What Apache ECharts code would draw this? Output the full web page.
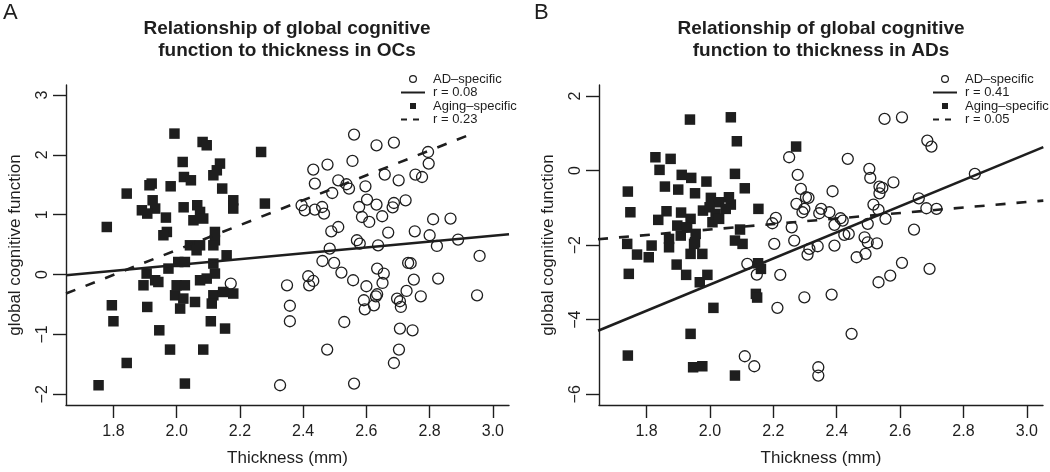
<!DOCTYPE html>
<html>
<head>
<meta charset="utf-8">
<script src="https://cdn.jsdelivr.net/npm/echarts@6/dist/echarts.min.js"></script>
<style>
html,body{margin:0;padding:0;background:#fff;}
#chart{width:1050px;height:472px;}
</style>
</head>
<body>
<div id="chart"></div>
<script>
// ---------- data ----------
const xTicks = [1.8, 2.0, 2.2, 2.4, 2.6, 2.8, 3.0];
const yTicksA = [-2, -1, 0, 1, 2, 3];
const yTicksB = [-6, -4, -2, 0, 2];

const panelTitles = ['Relationship of global cognitive\nfunction to thickness in OCs',
                     'Relationship of global cognitive\nfunction to thickness in ADs'];
const legendLabelsA = ['AD\u2013specific', 'r = 0.08', 'Aging\u2013specific', 'r = 0.23'];
const legendLabelsB = ['AD\u2013specific', 'r = 0.41', 'Aging\u2013specific', 'r = 0.05'];

// Panel A (OCs): Aging-specific (filled squares)
const agingA = [
  [1.993,2.355],[2.082,2.215],[2.095,2.160],[2.267,2.048],[2.019,1.881],[2.137,1.854],
  [2.127,1.742],[2.116,1.659],[1.921,1.520],[1.914,1.492],[1.981,1.475],[2.023,1.630],
  [2.045,1.575],[1.842,1.353],[2.144,1.437],[2.179,1.241],[2.179,1.103],[2.279,1.186],
  [1.924,1.241],[1.932,1.103],[1.890,1.074],[1.907,1.019],[1.966,0.952],[2.022,1.124],
  [2.065,1.158],[2.074,1.046],[2.053,0.907],[2.084,0.936],[1.779,0.795],[1.969,0.712],
  [1.958,0.657],[2.121,0.712],[2.121,0.573],[2.042,0.489],[2.074,0.489],[2.063,0.406],
  [2.116,0.489],[2.158,0.322],[2.005,0.210],[2.026,0.210],[1.974,0.100],[2.116,0.184],
  [2.121,0.017],[1.905,0.017],[1.932,-0.095],[1.895,-0.179],[1.942,-0.124],[2.095,-0.067],
  [2.074,-0.095],[2.000,-0.179],[2.026,-0.179],[1.995,-0.346],[2.021,-0.401],[2.011,-0.568],
  [2.058,-0.458],[2.116,-0.346],[2.111,-0.484],[2.147,-0.291],[2.179,-0.317],[1.795,-0.513],
  [1.907,-0.541],[1.800,-0.780],[1.945,-0.931],[2.108,-0.780],[2.153,-0.902],[1.979,-1.253],
  [2.084,-1.253],[1.842,-1.477],[1.753,-1.849],[2.026,-1.821]
];
// Panel A (OCs): AD-specific (open circles)
const adA = [
  [2.171,-0.150],[2.349,-0.179],[2.358,-0.521],[2.358,-0.780],[2.327,-1.849],
  [2.561,2.339],[2.632,2.160],[2.687,2.205],[2.795,2.048],[2.797,1.854],[2.432,1.754],
  [2.477,1.838],[2.556,1.898],[2.437,1.520],[2.511,1.575],[2.537,1.509],[2.545,1.437],
  [2.597,1.475],[2.658,1.671],[2.702,1.575],[2.755,1.671],[2.776,1.630],[2.492,1.363],
  [2.395,1.158],[2.405,1.074],[2.437,1.086],[2.460,1.129],[2.466,1.019],[2.577,1.129],
  [2.602,1.253],[2.632,1.169],[2.687,1.196],[2.683,1.124],[2.724,1.241],[2.586,0.962],
  [2.609,0.879],[2.650,0.974],[2.489,0.723],[2.511,0.795],[2.669,0.702],[2.811,0.924],
  [2.866,0.936],[2.753,0.723],[2.800,0.657],[2.570,0.573],[2.579,0.518],[2.637,0.489],
  [2.890,0.585],[2.823,0.478],[2.484,0.434],[2.958,0.311],[2.461,0.227],[2.498,0.194],
  [2.521,0.033],[2.732,0.194],[2.740,0.189],[2.634,0.100],[2.655,0.017],[2.651,-0.140],
  [2.416,-0.028],[2.419,-0.179],[2.432,-0.107],[2.558,-0.095],[2.600,-0.195],[2.750,-0.084],
  [2.827,-0.067],[2.634,-0.329],[2.630,-0.363],[2.592,-0.429],[2.595,-0.580],[2.624,-0.513],
  [2.697,-0.401],[2.706,-0.446],[2.709,-0.541],[2.727,-0.274],[2.772,-0.363],[2.950,-0.346],
  [2.530,-0.792],[2.706,-0.902],[2.746,-0.931],[2.476,-1.253],[2.703,-1.253],[2.687,-1.477],
  [2.561,-1.821]
];
// Panel B (ADs): Aging-specific (filled squares)
const agingB = [
  [1.937,1.368],[2.066,1.429],[2.085,0.786],[2.272,0.644],[1.828,0.357],[1.876,0.314],
  [1.841,0.019],[1.911,-0.115],[1.941,-0.196],[1.989,-0.295],[2.079,-0.088],[1.741,-0.563],
  [1.858,-0.429],[1.900,-0.510],[1.953,-0.609],[2.110,-0.475],[2.003,-0.732],[2.029,-0.850],
  [2.060,-0.716],[2.066,-0.912],[1.749,-1.118],[1.863,-1.091],[1.909,-1.126],[1.837,-1.322],
  [1.978,-1.073],[1.999,-0.984],[2.018,-1.161],[2.050,-1.027],[2.008,-1.386],[2.029,-1.295],
  [1.939,-1.295],[1.897,-1.475],[1.928,-1.521],[1.908,-1.743],[1.955,-1.698],[1.953,-1.923],
  [2.153,-1.027],[2.095,-1.582],[1.739,-1.966],[1.816,-2.011],[1.871,-1.832],[1.871,-2.057],
  [2.079,-1.877],[2.103,-1.966],[1.950,-1.966],[1.770,-2.253],[1.807,-2.325],[1.939,-2.234],
  [1.976,-2.234],[1.744,-2.770],[1.895,-2.521],[1.925,-2.797],[1.992,-2.797],[1.968,-2.995],
  [2.152,-2.486],[2.161,-2.636],[2.145,-3.307],[2.149,-3.406],[2.011,-3.682],[1.939,-4.379],
  [1.741,-4.961],[1.947,-5.275],[1.976,-5.248],[2.079,-5.497]
];
// Panel B (ADs): AD-specific (open circles)
const adB = [
  [2.250,0.357],[2.277,-0.115],[2.287,-0.491],[2.303,-0.716],[2.273,-0.893],[2.298,-1.027],
  [2.292,-1.118],[2.208,-1.268],[2.197,-1.413],[2.258,-1.521],[2.203,-1.966],[2.266,-1.877],
  [2.118,-2.502],[2.148,-2.789],[2.222,-2.797],[2.213,-3.682],[2.298,-3.398],[2.308,-2.253],
  [2.110,-4.980],[2.140,-5.248],[2.551,1.386],[2.606,1.429],[2.686,0.804],[2.699,0.644],
  [2.435,0.314],[2.503,0.046],[2.506,-0.196],[2.579,-0.314],[2.535,-0.429],[2.544,-0.464],
  [2.535,-0.609],[2.387,-0.555],[2.311,-0.732],[2.351,-1.027],[2.345,-1.145],[2.377,-1.118],
  [2.516,-0.912],[2.532,-1.054],[2.659,-0.743],[2.683,-1.011],[2.715,-1.027],[2.836,-0.088],
  [2.412,-1.279],[2.419,-1.341],[2.393,-1.456],[2.498,-1.429],[2.554,-1.295],[2.644,-1.582],
  [2.424,-1.724],[2.438,-1.698],[2.488,-1.789],[2.498,-1.923],[2.527,-1.950],[2.340,-2.030],
  [2.393,-2.011],[2.314,-2.100],[2.463,-2.325],[2.491,-2.234],[2.532,-2.995],[2.569,-2.816],
  [2.606,-2.475],[2.693,-2.636],[2.384,-3.325],[2.447,-4.379],[2.342,-5.275],[2.342,-5.497]
];
// Regression lines (endpoints in data units)
const fitA_AD    = [[1.650,-0.012],[3.051,0.673]];
const fitA_Aging = [[1.650,-0.317],[2.927,2.337]];
const fitB_AD    = [[1.647,-4.294],[3.052,0.628]];
const fitB_Aging = [[1.647,-1.841],[3.052,-0.805]];

// ---------- chart ----------
const FONT = "'Liberation Sans', Arial, Helvetica, sans-serif";
const INK = '#1e1e1e';
const chart = echarts.init(document.getElementById('chart'), null, {renderer:'canvas'});

const fmtY = v => (v < 0 ? '\u2212' + Math.abs(v) : String(v));

function xAx(gi){
  return {
    gridIndex: gi, type:'value', min:1.65, max:3.051,
    axisLine:{show:true, onZero:false, lineStyle:{color:INK, width:1.4}},
    axisTick:{show:true, inside:false, length:13, customValues:xTicks, lineStyle:{color:INK, width:1.4}},
    axisLabel:{show:true, customValues:xTicks, formatter:v=>Number(v).toFixed(1), margin:19,
      fontSize:16, color:INK, fontFamily:FONT},
    splitLine:{show:false},
    name:'Thickness (mm)', nameLocation:'middle', nameGap:45,
    nameTextStyle:{fontSize:17, color:INK, fontFamily:FONT}
  };
}
function yAx(gi, mn, mx, ticks){
  return {
    gridIndex: gi, type:'value', min:mn, max:mx,
    axisLine:{show:true, onZero:false, lineStyle:{color:INK, width:1.4}},
    axisTick:{show:true, inside:false, length:13, customValues:ticks, lineStyle:{color:INK, width:1.4}},
    axisLabel:{show:true, customValues:ticks, formatter:fmtY, rotate:90, margin:15,
      fontSize:16, color:INK, fontFamily:FONT},
    splitLine:{show:false},
    name:'global cognitive function', nameLocation:'middle', nameGap:42, nameRotate:90,
    nameTextStyle:{fontSize:17, color:INK, fontFamily:FONT}
  };
}
function sq(data, xi){
  return {type:'scatter', xAxisIndex:xi, yAxisIndex:xi, data:data, symbol:'rect', symbolSize:10.5,
    itemStyle:{color:INK, opacity:1}, silent:true, z:2};
}
function circ(data, xi){
  return {type:'scatter', xAxisIndex:xi, yAxisIndex:xi, data:data, symbol:'circle', symbolSize:11,
    itemStyle:{color:'rgba(0,0,0,0)', borderColor:INK, borderWidth:1.3, opacity:1}, silent:true, z:2};
}
function fit(data, xi, dashed){
  return {type:'line', xAxisIndex:xi, yAxisIndex:xi, data:data, showSymbol:false, symbol:'none',
    lineStyle:{color:INK, width:2.6, type: dashed ? [10,11] : 'solid'}, silent:true, z:3, animation:false};
}

function legendGraphics(mx, tx, labels){
  const rows = [79, 92.5, 106, 119.5];
  const g = [];
  g.push({type:'circle', shape:{cx:mx, cy:rows[0], r:3.4}, style:{fill:'none', stroke:INK, lineWidth:1.2}});
  g.push({type:'line', shape:{x1:mx-12, y1:rows[1], x2:mx+12, y2:rows[1]}, style:{stroke:INK, lineWidth:2}});
  g.push({type:'rect', shape:{x:mx-3, y:rows[2]-3, width:6, height:6}, style:{fill:INK}});
  g.push({type:'line', shape:{x1:mx-12, y1:rows[3], x2:mx+12, y2:rows[3]}, style:{stroke:INK, lineWidth:2, lineDash:[6,6]}});
  labels.forEach((t,i)=>{
    g.push({type:'text', x:tx, y:rows[i], style:{text:t, fill:INK, font:'13px '+FONT, textAlign:'left', textVerticalAlign:'middle'}});
  });
  return g;
}

const graphics = [
  {type:'text', x:3, y:13, style:{text:'A', fill:INK, font:'22px '+FONT, textAlign:'left', textVerticalAlign:'middle'}},
  {type:'text', x:534, y:13, style:{text:'B', fill:INK, font:'22px '+FONT, textAlign:'left', textVerticalAlign:'middle'}},
  {type:'text', x:287, y:40, style:{text:panelTitles[0], fill:INK, font:'bold 19px '+FONT, textAlign:'center', textVerticalAlign:'middle', lineHeight:22}},
  {type:'text', x:821, y:40, style:{text:panelTitles[1], fill:INK, font:'bold 19px '+FONT, textAlign:'center', textVerticalAlign:'middle', lineHeight:22}}
].concat(legendGraphics(413, 433, legendLabelsA), legendGraphics(945, 965, legendLabelsB));

chart.setOption({
  animation:false,
  backgroundColor:'#fff',
  grid:[
    {left:66, top:85, width:443, height:320, outerBoundsMode:'none', containLabel:false},
    {left:599, top:85, width:444, height:320, outerBoundsMode:'none', containLabel:false}
  ],
  xAxis:[xAx(0), xAx(1)],
  yAxis:[yAx(0, -2.179, 3.167, yTicksA), yAx(1, -6.287, 2.295, yTicksB)],
  series:[
    sq(agingA,0), circ(adA,0), fit(fitA_AD,0,false), fit(fitA_Aging,0,true),
    sq(agingB,1), circ(adB,1), fit(fitB_AD,1,false), fit(fitB_Aging,1,true)
  ],
  graphic: graphics
});
</script>
</body>
</html>
